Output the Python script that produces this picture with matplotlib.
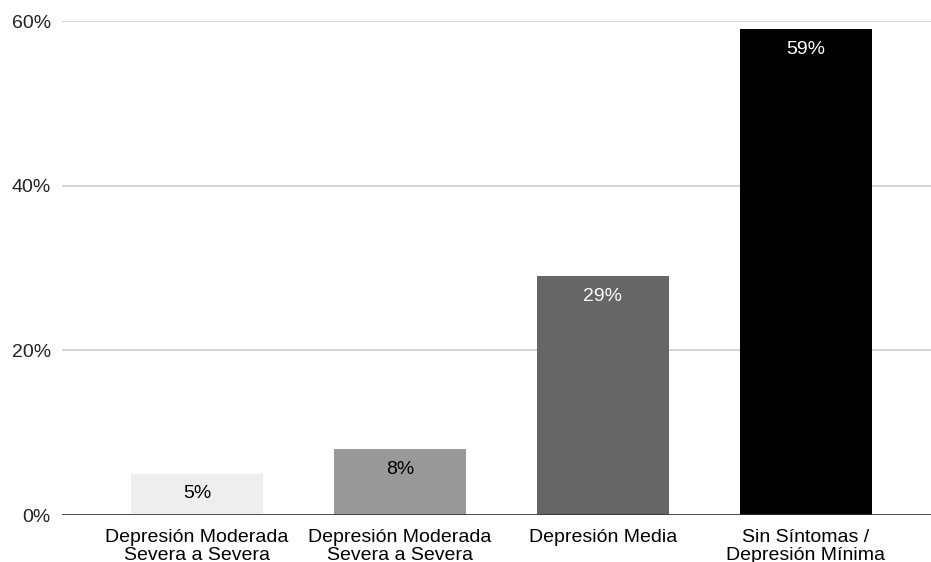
import matplotlib.pyplot as plt
from matplotlib.ticker import FuncFormatter

plt.rcParams['font.family'] = ['Liberation Sans', 'DejaVu Sans']

categorias = ['Depresión Moderada\nSevera a Severa',
              'Depresión Moderada\nSevera a Severa',
              'Depresión Media',
              'Sin Síntomas /\nDepresión Mínima']
porcentajes = [5, 8, 29, 59]
colores = ['#eeeeee', '#999999', '#666666', '#000000']
color_texto = ['black', 'black', 'white', 'white']

fig = plt.figure(figsize=(9.31, 5.62), dpi=100)
ax = fig.add_axes([62 / 931, 47 / 562, 1 - 62 / 931, 494 / 562])

x = range(len(porcentajes))
barras = ax.bar(x, porcentajes, width=0.65, color=colores, zorder=3)

for b, v, c in zip(barras, porcentajes, color_texto):
    ax.annotate(f'{v}%', (b.get_x() + b.get_width() / 2, v),
                xytext=(0, -14.5), textcoords='offset points',
                ha='center', va='center', fontsize=14, color=c, zorder=4)

ax.set_xlim(-0.665, 3.616)
ax.set_ylim(0, 60)
ax.set_yticks([0, 20, 40, 60])
ax.yaxis.set_major_formatter(FuncFormatter(lambda v, p: f'{v:.0f}%'))
ax.grid(axis='y', color='#cccccc', linewidth=1.2, zorder=0)
ax.axhline(0, color='#333333', linewidth=1.2, zorder=5)

ax.set_xticks(list(x))
ax.set_xticklabels(categorias, fontsize=14, linespacing=1.05)
ax.tick_params(axis='x', length=0, pad=10)
ax.tick_params(axis='y', length=0, pad=8, labelsize=14, labelcolor='#222222')
for s in ax.spines.values():
    s.set_visible(False)

fig.savefig('out.png', dpi=100)
